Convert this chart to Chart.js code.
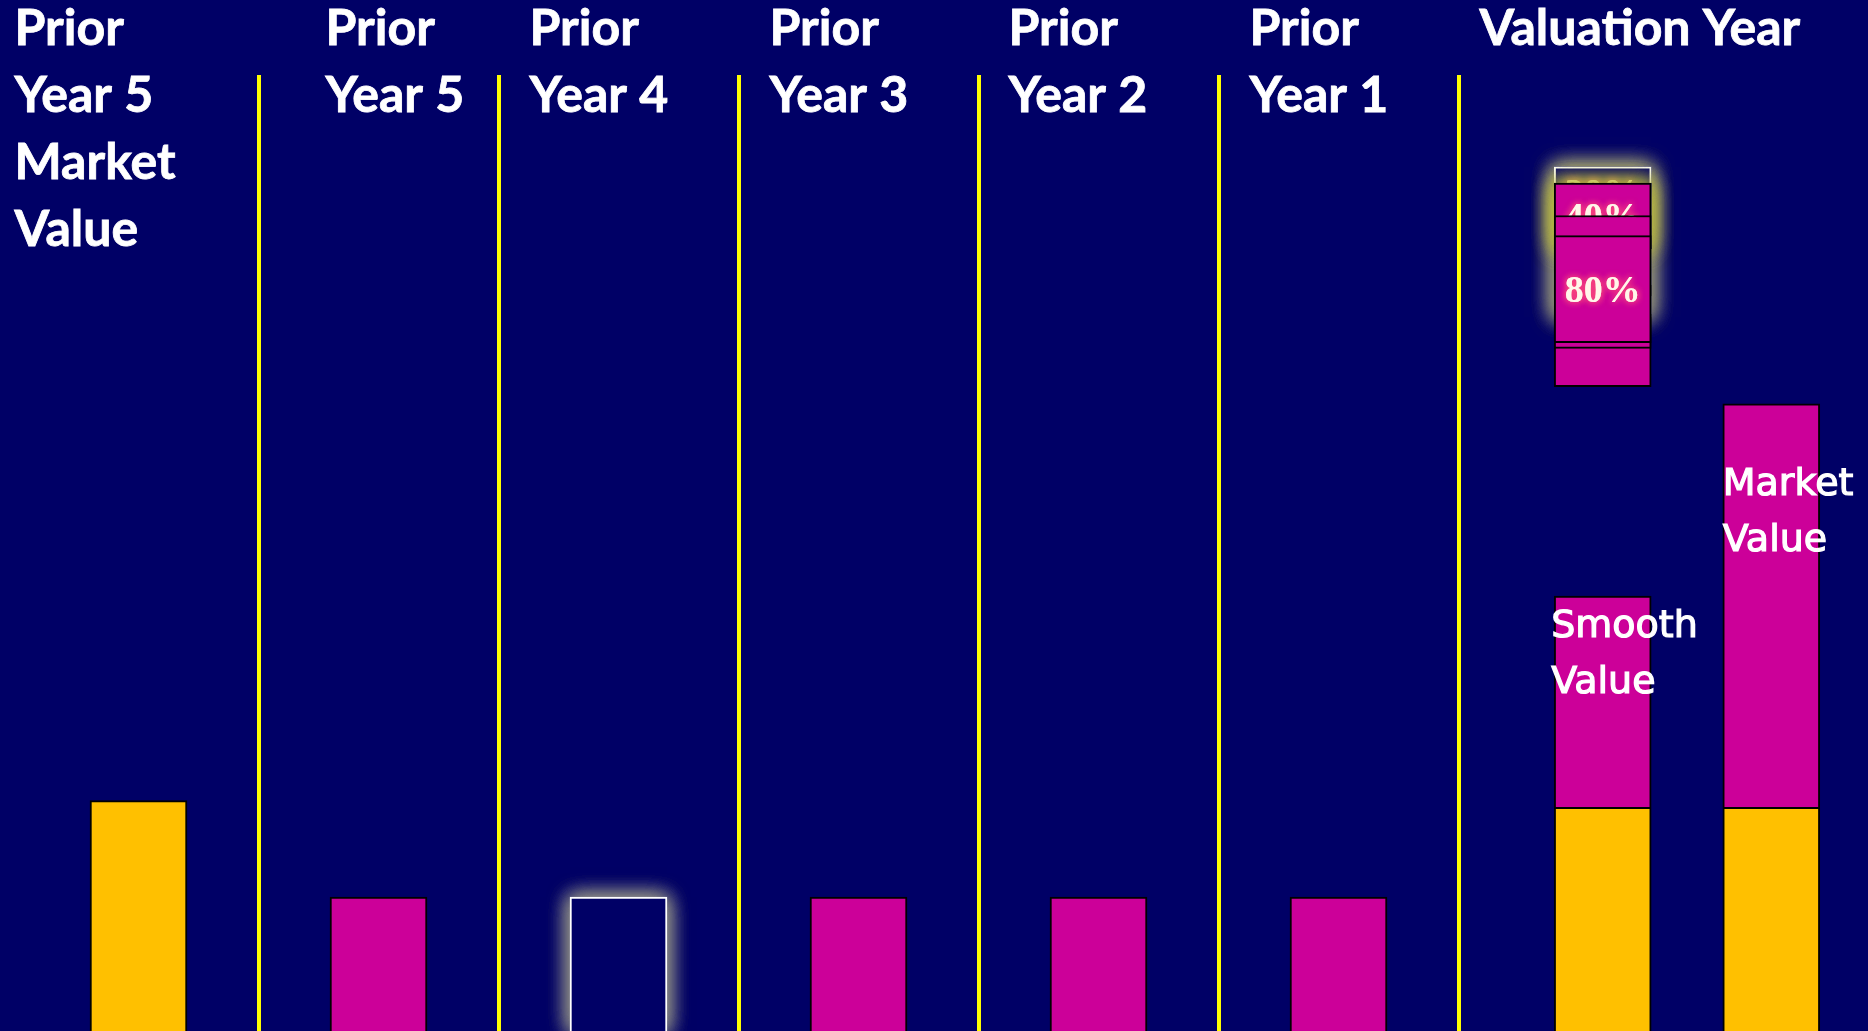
<!DOCTYPE html>
<html>
<head>
<meta charset="utf-8">
<script src="https://cdn.jsdelivr.net/npm/chart.js@4.4.1/dist/chart.umd.min.js"></script>
<style>
  html, body { margin: 0; padding: 0; background: #000066; overflow: hidden; }
  #wrap { position: relative; width: 1868px; height: 1031px; }
  canvas { position: absolute; left: 0; top: 0; }
</style>
</head>
<body>
<div id="wrap">
  <canvas id="colunas" width="1868" height="1031"></canvas>
  <canvas id="valuacion" width="1868" height="1031"></canvas>
</div>
<script>
// Datos del gráfico
const columnas = [
    ['Prior', 'Year 5', 'Market', 'Value'],
    ['Prior', 'Year 5'],
    ['Prior', 'Year 4'],
    ['Prior', 'Year 3'],
    ['Prior', 'Year 2'],
    ['Prior', 'Year 1'],
    ['Valuation Year']
];
const valorMercadoPrevio = [24.1, null, null, null, null, null, null];
const gananciasPrevias = [null, 14, 14, 14, 14, 14, null];
const columnaMovida = 2; // Prior Year 4, ya desplazada

const barrasValuacion = ['Smooth Value', 'Market Value'];
const baseValuacion = [23.4, 23.4];
const gananciaValuacion = [22.1, 42.2];

// Piezas diferidas que suben sobre "Smooth Value" (de arriba hacia abajo en el dibujo)
const piezasEtiquetas = ['80%', '', '', '60%', '40%', '20%'];
const piezasRangos = [
    [72.0, 83.2],
    [71.4, 78.0],
    [67.4, 75.0],
    [76.9, 85.3],
    [81.8, 88.7],
    [74.7, 90.4]
];

// Colores
const AZUL = '#000066';
const ORO = '#FFC000';
const MAGENTA = '#CC0099';
const AMARILLO = '#FFFF00';

// Ajustes de posición de los encabezados (px desde el borde izquierdo de cada columna)
const ajusteEncabezado = [-4, 67, 31, 31, 30, 31, 21];

const escalaY = { display: false, stacked: true, min: 0, max: 100 };

// Resplandor suave detrás de algunas barras
const pluginResplandor = {
    id: 'resplandor',
    beforeDatasetDraw(chart, args) {
        const ds = chart.data.datasets[args.index];
        if (!ds.resplandor) return;
        const ctx = chart.ctx;
        args.meta.data.forEach((barra, i) => {
            if (ds.data[i] == null) return;
            if (ds.resplandorIndice !== undefined && ds.resplandorIndice !== i) return;
            const p = barra.getProps(['x', 'y', 'base', 'width'], true);
            const arriba = Math.min(p.y, p.base);
            const alto = Math.abs(p.base - p.y);
            ctx.save();
            ctx.shadowColor = ds.resplandor;
            ctx.shadowBlur = 20;
            ctx.fillStyle = AZUL;
            for (let k = 0; k < 4; k++) {
                ctx.fillRect(p.x - p.width / 2, arriba, p.width, alto);
            }
            ctx.restore();
        });
    }
};

// Encabezados de columnas
const pluginEncabezados = {
    id: 'encabezados',
    afterDraw(chart) {
        const ctx = chart.ctx;
        const x = chart.scales.x;
        const mitad = (x.getPixelForValue(1) - x.getPixelForValue(0)) / 2;
        ctx.save();
        ctx.font = 'bold 50px Lato';
        ctx.fillStyle = '#FFFFFF';
        ctx.strokeStyle = '#FFFFFF';
        ctx.lineWidth = 0.8;
        ctx.textAlign = 'left';
        ctx.textBaseline = 'alphabetic';
        columnas.forEach((lineas, i) => {
            const izq = x.getPixelForValue(i) - mitad + ajusteEncabezado[i];
            lineas.forEach((t, k) => {
                ctx.fillText(t, izq, 45 + k * 67);
                ctx.strokeText(t, izq, 45 + k * 67);
            });
        });
        ctx.restore();
    }
};

// Etiquetas de porcentaje en las piezas
const pluginPorcentajes = {
    id: 'porcentajes',
    afterDatasetDraw(chart, args) {
        const ds = chart.data.datasets[args.index];
        if (!ds.etiqueta) return;
        const ctx = chart.ctx;
        const p = args.meta.data[0].getProps(['x', 'y', 'base'], true);
        const arriba = Math.min(p.y, p.base);
        const abajo = Math.max(p.y, p.base);
        const cy = ds.etiquetaArriba ? arriba + 25 : (arriba + abajo) / 2;
        ctx.save();
        ctx.font = 'bold 38px "Liberation Serif"';
        ctx.textAlign = 'center';
        ctx.textBaseline = 'alphabetic';
        ctx.shadowColor = 'rgba(255, 80, 120, 1)';
        ctx.shadowBlur = 7;
        ctx.fillStyle = '#FFF6EA';
        ctx.fillText(ds.etiqueta, p.x, cy + 13);
        ctx.fillText(ds.etiqueta, p.x, cy + 13);
        ctx.restore();
    }
};

// Textos "Smooth Value" / "Market Value"
const pluginNombres = {
    id: 'nombres',
    afterDraw(chart) {
        const ctx = chart.ctx;
        const meta = chart.getDatasetMeta(chart.data.datasets.length - 1);
        const desplazamiento = [41, 91];
        const ajusteX = [-3, 0];
        ctx.save();
        ctx.font = '38px "DejaVu Sans"';
        ctx.fillStyle = '#FFFFFF';
        ctx.strokeStyle = '#FFFFFF';
        ctx.lineWidth = 1.2;
        ctx.textAlign = 'left';
        barrasValuacion.forEach((nombre, i) => {
            const p = meta.data[i].getProps(['x', 'y', 'width'], true);
            const izq = p.x - p.width / 2 + ajusteX[i];
            nombre.split(' ').forEach((t, k) => {
                const y = p.y + desplazamiento[i] + k * 56;
                ctx.fillText(t, izq, y);
                ctx.strokeText(t, izq, y);
            });
        });
        ctx.restore();
    }
};

function crearGraficos() {
    // Gráfico de columnas previas
    new Chart(document.getElementById('colunas'), {
        type: 'bar',
        data: {
            labels: columnas.map(c => c.join(' ')),
            datasets: [
                {
                    label: 'Market Value',
                    data: valorMercadoPrevio,
                    stack: 'p',
                    backgroundColor: ORO,
                    borderColor: '#000000',
                    borderWidth: 2
                },
                {
                    label: 'Gain / Loss',
                    data: gananciasPrevias,
                    stack: 'p',
                    backgroundColor: ctx => ctx.dataIndex === columnaMovida ? AZUL : MAGENTA,
                    borderColor: ctx => ctx.dataIndex === columnaMovida ? '#FFFFFF' : '#000000',
                    borderWidth: 2,
                    resplandor: 'rgba(150, 150, 135, 0.7)',
                    resplandorIndice: columnaMovida
                }
            ]
        },
        options: {
            responsive: false,
            animation: false,
            barThickness: 97,
            layout: { padding: { top: 75, left: 18.5, right: 169.5, bottom: 0 } },
            plugins: { legend: { display: false }, tooltip: { enabled: false } },
            scales: {
                x: {
                    stacked: true,
                    offset: true,
                    border: { display: false },
                    ticks: { display: false },
                    grid: {
                        offset: true,
                        drawTicks: false,
                        lineWidth: 4,
                        color: ctx => (ctx.type !== 'tick' || ctx.index === 0) ? 'rgba(0,0,0,0)' : AMARILLO
                    }
                },
                y: escalaY
            }
        },
        plugins: [pluginResplandor, pluginEncabezados]
    });

    // Gráfico del año de valuación
    const piezas = piezasRangos.map((r, i) => {
        const e = piezasEtiquetas[i];
        let brillo;
        if (e === '20%') brillo = 'rgba(150, 150, 120, 0.85)';
        if (e === '40%') brillo = 'rgba(190, 190, 60, 0.7)';
        return {
            label: 'Deferred ' + (e || i),
            data: [r, null],
            stack: 'pieza' + i,
            grouped: false,
            backgroundColor: e === '20%' ? AZUL : MAGENTA,
            borderColor: e === '20%' ? '#FFFFFF' : '#000000',
            borderWidth: 2,
            borderSkipped: false,
            etiqueta: e,
            etiquetaArriba: e === '20%',
            resplandor: brillo
        };
    });

    new Chart(document.getElementById('valuacion'), {
        type: 'bar',
        data: {
            labels: barrasValuacion,
            datasets: [
                ...piezas,
                {
                    label: 'Base',
                    data: baseValuacion,
                    stack: 'v',
                    backgroundColor: ORO,
                    borderColor: '#000000',
                    borderWidth: 2
                },
                {
                    label: 'Gain',
                    data: gananciaValuacion,
                    stack: 'v',
                    backgroundColor: MAGENTA,
                    borderColor: '#000000',
                    borderWidth: 2
                }
            ]
        },
        options: {
            responsive: false,
            animation: false,
            barThickness: 97,
            layout: { padding: { top: 75, left: 1518.4, right: 12.4, bottom: 0 } },
            plugins: { legend: { display: false }, tooltip: { enabled: false } },
            scales: {
                x: { display: false, offset: true },
                y: escalaY
            }
        },
        plugins: [pluginResplandor, pluginPorcentajes, pluginNombres]
    });
}

const fuentes = ['bold 50px Lato', '38px "DejaVu Sans"', 'bold 38px "Liberation Serif"'];
Promise.all(fuentes.map(f => document.fonts.load(f)))
    .catch(() => null)
    .then(crearGraficos);
</script>
</body>
</html>
